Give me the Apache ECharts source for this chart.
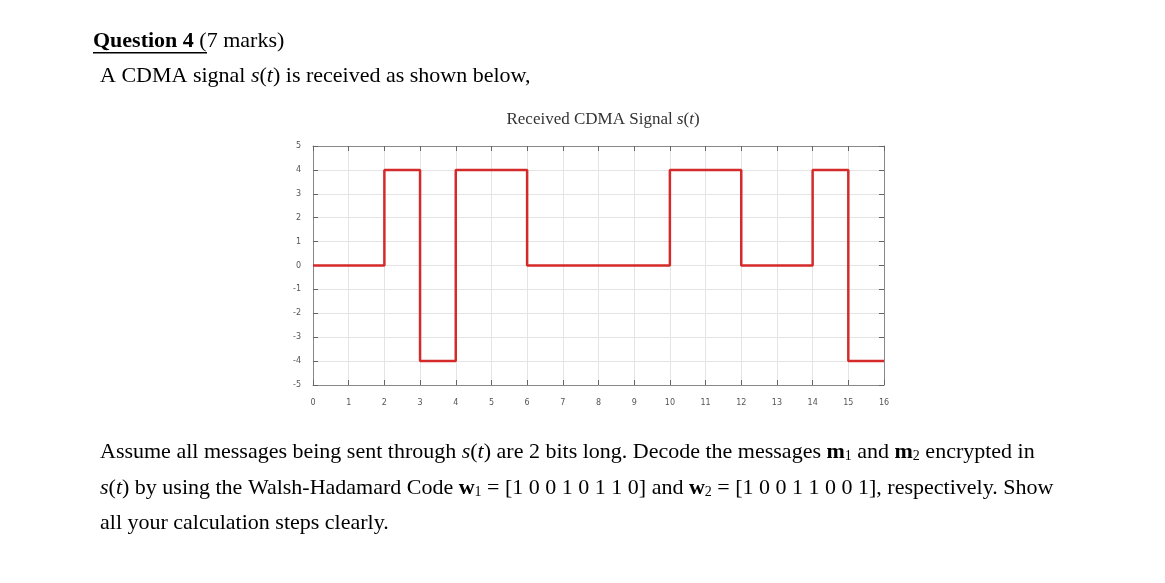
<!DOCTYPE html>
<html>
<head>
<meta charset="utf-8">
<script src="https://cdn.jsdelivr.net/npm/echarts@6/dist/echarts.min.js"></script>
<style>html,body{margin:0;padding:0;background:#fff}#c{width:1165px;height:583px}</style>
</head>
<body>
<div id="c"></div>
<script>
// signal change points (step holds value until next time)
var times = [0, 2, 3, 4, 6, 10, 12, 14, 15, 16];
var levels = [0, 4, -4, 4, 0, 4, 0, 4, -4, -4];
var xTicks = [0, 16, 1];
var yTicks = [-5, 5, 1];

var serif = 'Liberation Serif, Times New Roman, serif';
var chart = echarts.init(document.getElementById('c'));

var pts = [];
for (var i = 0; i < times.length; i++) pts.push([times[i], levels[i]]);

function axisCommon() {
	return {
		type: 'value',
		interval: 1,
		axisLine: {show: true, onZero: false, lineStyle: {color: '#888', width: 1}},
		axisTick: {show: true, inside: true, length: 5, lineStyle: {color: '#666'}},
		splitLine: {show: true, lineStyle: {color: '#e4e4e4', width: 1}},
		axisLabel: {color: '#555', fontSize: 8, fontFamily: 'DejaVu Sans'}
	};
}

var xa = axisCommon();
xa.min = xTicks[0]; xa.max = xTicks[1];
xa.axisLabel.margin = 14;
var xTop = axisCommon();
xTop.min = xTicks[0]; xTop.max = xTicks[1]; xTop.position = 'top';
xTop.axisLabel = {show: false}; xTop.splitLine = {show: false};

var ya = axisCommon();
ya.min = yTicks[0]; ya.max = yTicks[1];
ya.axisLabel.margin = 12;
var yRight = axisCommon();
yRight.min = yTicks[0]; yRight.max = yTicks[1]; yRight.position = 'right';
yRight.axisLabel = {show: false}; yRight.splitLine = {show: false};

var rt = {
	i: {fontStyle: 'italic', fontFamily: serif, fontSize: 22},
	b: {fontWeight: 'bold', fontFamily: serif, fontSize: 22},
	s: {fontFamily: serif, fontSize: 14, padding: [9, 0, 0, 0]}
};

chart.setOption({
	animation: false,
	title: {
		text: 'Received CDMA Signal {i|s}({i|t})',
		left: 598, top: 106, textAlign: 'center',
		textStyle: {fontFamily: serif, fontSize: 17, fontWeight: 'normal', color: '#333',
			rich: {i: {fontStyle: 'italic', fontFamily: serif, fontSize: 17, color: '#333'}}}
	},
	grid: {left: 313, right: 281, top: 146, bottom: 198},
	xAxis: [xa, xTop],
	yAxis: [ya, yRight],
	series: [{
		type: 'line',
		step: 'end',
		data: pts,
		symbol: 'none',
		lineStyle: {color: '#d42a2a', width: 2.5}
	}],
	graphic: [
		{type: 'text', left: 93, top: 30, style: {
			text: '{b|Question 4} (7 marks)', font: '22px ' + serif, fill: '#000', rich: rt
		}},
		{type: 'rect', shape: {x: 93, y: 52, width: 114, height: 1.5}, style: {fill: '#000'}},
		{type: 'text', left: 100, top: 65, style: {
			text: 'A CDMA signal {i|s}({i|t}) is received as shown below,', font: '22px ' + serif, fill: '#000', rich: rt
		}},
		{type: 'text', left: 100, top: 441, style: {
			text: 'Assume all messages being sent through {i|s}({i|t}) are 2 bits long. Decode the messages {b|m}{s|1} and {b|m}{s|2} encrypted in',
			font: '22px ' + serif, fill: '#000', rich: rt
		}},
		{type: 'text', left: 100, top: 477, style: {
			text: '{i|s}({i|t}) by using the Walsh-Hadamard Code {b|w}{s|1} = [1 0 0 1 0 1 1 0] and {b|w}{s|2} = [1 0 0 1 1 0 0 1], respectively. Show',
			font: '22px ' + serif, fill: '#000', rich: rt
		}},
		{type: 'text', left: 100, top: 512, style: {text: 'all your calculation steps clearly.', font: '22px ' + serif, fill: '#000'}}
	]
});
</script>
</body>
</html>
